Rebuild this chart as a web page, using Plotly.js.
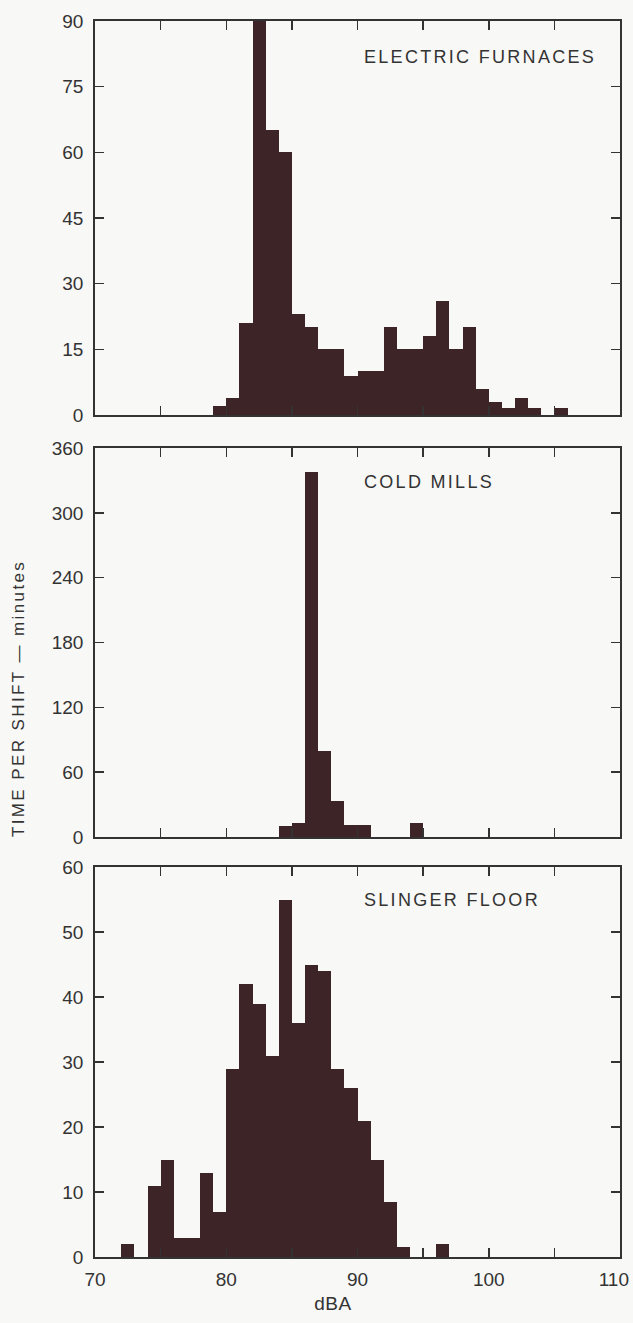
<!DOCTYPE html>
<html>
<head>
<meta charset="utf-8">
<script src="https://cdn.plot.ly/plotly-3.0.1.min.js"></script>
<style>
  html, body { margin: 0; padding: 0; background: #f8f8f6; }
  #chart { width: 633px; height: 1323px; }
</style>
</head>
<body>
<div id="chart"></div>
<script>
// ---- Data (bin lower edge in dBA, minutes per shift) ----
const furnaceDBA    = [79, 80, 81, 82, 83, 84, 85, 86, 87, 88, 89, 90, 91, 92, 93, 94, 95, 96, 97, 98, 99, 100, 101, 102, 103, 104, 105];
const furnaceMin    = [2, 4, 21, 90, 65, 60, 23, 20, 15, 15, 9, 10, 10, 20, 15, 15, 18, 26, 15, 20, 6, 3, 1.5, 4, 1.5, 0, 1.5];

const coldMillDBA   = [84, 85, 86, 87, 88, 89, 90, 94];
const coldMillMin   = [10, 13, 338, 80, 33, 11, 11, 13];

const slingerDBA    = [72, 74, 75, 76, 77, 78, 79, 80, 81, 82, 83, 84, 85, 86, 87, 88, 89, 90, 91, 92, 93, 96];
const slingerMin    = [2, 11, 15, 3, 3, 13, 7, 29, 42, 39, 31, 55, 36, 45, 44, 29, 26, 21, 15, 8.5, 1.5, 2];

const panelNames    = ["ELECTRIC FURNACES", "COLD MILLS", "SLINGER FLOOR"];
const xTickVals     = [70, 75, 80, 85, 90, 95, 100, 105, 110];
const xTickText     = ["70", "", "80", "", "90", "", "100", "", "110"];
const yTicks1       = [0, 15, 30, 45, 60, 75, 90];
const yTicks2       = [0, 60, 120, 180, 240, 300, 360];
const yTicks3       = [0, 10, 20, 30, 40, 50, 60];
const yTitle        = "TIME PER SHIFT — minutes";
const xTitle        = "dBA";

// ---- Styling ----
const barColor = "#3c2427";
const ink = "#333333";
const bg = "#f8f8f6";
const font = "Liberation Sans, Arial, sans-serif";

function barTrace(x, y, xa, ya) {
  return {
    type: "bar", x: x, y: y, width: 1, offset: 0,
    marker: { color: barColor, line: { width: 0 } },
    xaxis: xa, yaxis: ya, hoverinfo: "skip", showlegend: false
  };
}

const data = [
  barTrace(furnaceDBA, furnaceMin, "x3", "y3"),
  barTrace(coldMillDBA, coldMillMin, "x2", "y2"),
  barTrace(slingerDBA, slingerMin, "x", "y")
];

function xAxis(anchor, showLabels) {
  return {
    anchor: anchor, range: [70, 110], tickmode: "array",
    tickvals: xTickVals, ticktext: xTickText, showticklabels: showLabels,
    ticks: "inside", ticklen: 9, tickwidth: 1.5, tickcolor: ink,
    showline: true, linecolor: ink, linewidth: 1.8, mirror: "ticks",
    showgrid: false, zeroline: false, fixedrange: true,
    ticklabeloverflow: "allow", ticklabelstandoff: 4,
    tickfont: { family: font, size: 19, color: ink }
  };
}
function yAxis(anchor, domain, ticks) {
  return {
    anchor: anchor, domain: domain, range: [0, ticks[ticks.length - 1]],
    tickmode: "array", tickvals: ticks,
    ticks: "inside", ticklen: 9, tickwidth: 1.5, tickcolor: ink,
    showline: true, linecolor: ink, linewidth: 1.8, mirror: "ticks",
    showgrid: false, zeroline: false, fixedrange: true,
    ticklabelstandoff: 6, ticklabeloverflow: "allow",
    tickfont: { family: font, size: 19, color: ink }
  };
}

const labelFont = { family: font, size: 18, color: ink };
const layout = {
  width: 633, height: 1323,
  margin: { l: 95, r: 13, t: 21, b: 66 },
  paper_bgcolor: bg, plot_bgcolor: bg,
  bargap: 0,
  xaxis: xAxis("y", true),
  yaxis: yAxis("x", [0, 0.3155], yTicks3),
  xaxis2: xAxis("y2", false),
  yaxis2: yAxis("x2", [0.3398, 0.6545], yTicks2),
  xaxis3: xAxis("y3", false),
  yaxis3: yAxis("x3", [0.6812, 1], yTicks1),
  annotations: [
    { text: panelNames[0], xref: "x3", yref: "y3", x: 90.4, y: 81.7, xanchor: "left", yanchor: "middle", showarrow: false, font: labelFont },
    { text: panelNames[1], xref: "x2", yref: "y2", x: 90.4, y: 328.5, xanchor: "left", yanchor: "middle", showarrow: false, font: labelFont },
    { text: panelNames[2], xref: "x", yref: "y", x: 90.4, y: 54.9, xanchor: "left", yanchor: "middle", showarrow: false, font: labelFont },
    { text: yTitle, xref: "paper", yref: "paper", x: -0.1467, y: 0.452, xanchor: "center", yanchor: "middle", textangle: -90, showarrow: false, font: { family: font, size: 17, color: ink } },
    { text: xTitle, xref: "paper", yref: "paper", x: 0.453, y: -0.038, xanchor: "center", yanchor: "middle", showarrow: false, font: { family: font, size: 19, color: ink } }
  ]
};

// letter spacing (px) per annotation, and left edge (px) for the panel labels
const annSpacing = [
  { ls: 2.3, left: 364 }, { ls: 2.3, left: 364 }, { ls: 2.3, left: 364 },
  { ls: 2.4 }, { ls: 0.5 }
];

Plotly.newPlot("chart", data, layout, { staticPlot: true, displayModeBar: false }).then(function (gd) {
  const texts = gd.querySelectorAll(".annotation-text");
  texts.forEach(function (t, i) {
    const spec = annSpacing[i];
    if (!spec) return;
    t.style.letterSpacing = spec.ls + "px";
    if (spec.left != null) {
      const r = t.getBoundingClientRect();
      const dx = spec.left - r.left;
      t.setAttribute("x", parseFloat(t.getAttribute("x") || 0) + dx);
    }
  });
  // keep the last x tick label inside the page, as in the reference
  gd.querySelectorAll(".xtick text").forEach(function (t) {
    if (t.textContent === "110") {
      const r = t.getBoundingClientRect();
      const over = r.right - 629;
      if (over > 0) t.setAttribute("x", parseFloat(t.getAttribute("x") || 0) - over);
    }
  });
});
</script>
</body>
</html>
